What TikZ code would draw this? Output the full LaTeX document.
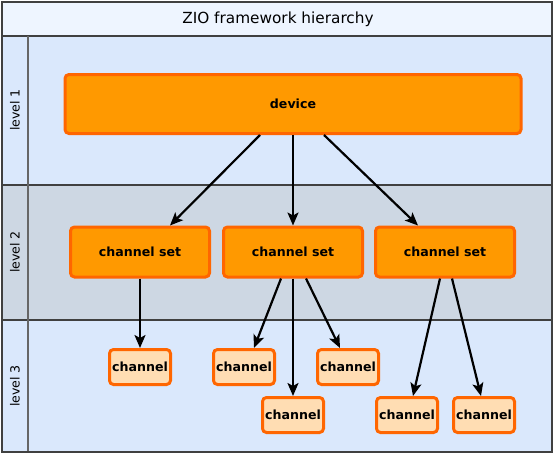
\documentclass[tikz,border=0pt]{standalone}
\usepackage{fontspec}
\setmainfont{DejaVu Sans}
\usetikzlibrary{arrows.meta}
\definecolor{titlebg}{HTML}{EEF5FF}
\definecolor{laneA}{HTML}{DAE8FC}
\definecolor{laneB}{HTML}{CDD7E3}
\definecolor{orfill}{HTML}{FF9900}
\definecolor{orline}{HTML}{FF6600}
\definecolor{chfill}{HTML}{FFDDB3}
\tikzset{
  bigbox/.style={draw=orline, fill=orfill, line width=3pt, rounded corners=4pt, font=\fontsize{12.6}{14}\selectfont\bfseries, inner sep=0pt},
  smallbox/.style={draw=orline, fill=chfill, line width=3pt, rounded corners=4pt, font=\fontsize{12.6}{14}\selectfont\bfseries, inner sep=0pt, minimum width=61pt, minimum height=35pt},
  arr/.style={-{Stealth[length=13pt,width=11pt,inset=3pt]}, line width=2.2pt},
  lanelbl/.style={rotate=90, font=\fontsize{12.6}{14}\selectfont},
}
\begin{document}
\begin{tikzpicture}[x=1pt,y=-1pt]
\useasboundingbox (0,0) rectangle (555,455);
% backgrounds
\fill[titlebg] (2,2) rectangle (552,36);
\fill[laneA] (2,36) rectangle (552,185);
\fill[laneB] (2,185) rectangle (552,320);
\fill[laneA] (2,320) rectangle (552,452);
\draw[black!75, line width=1.2pt] (2,36) -- (552,36);
\draw[black!75, line width=1.2pt] (2,185) -- (552,185);
\draw[black!75, line width=1.2pt] (2,320) -- (552,320);
\draw[black!60, line width=1.2pt] (28,36) -- (28,452);
\draw[black!75, line width=1.4pt] (2,2) rectangle (552,452);
\node[font=\fontsize{15.3}{17}\selectfont] (title) at (278,19) {ZIO framework hierarchy};
\node[lanelbl] (l1) at (15,110) {level 1};
\node[lanelbl] (l2) at (15,252) {level 2};
\node[lanelbl] (l3) at (15,386) {level 3};
% nodes
\node[bigbox, minimum width=456pt, minimum height=59pt] (dev) at (293,104) {device};
\node[bigbox, minimum width=139pt, minimum height=50pt] (cs1) at (140,252) {channel set};
\node[bigbox, minimum width=139pt, minimum height=50pt] (cs2) at (293,252) {channel set};
\node[bigbox, minimum width=139pt, minimum height=50pt] (cs3) at (445,252) {channel set};
\node[smallbox] (c1) at (140,367) {channel};
\node[smallbox] (c2) at (244,367) {channel};
\node[smallbox] (c3) at (348,367) {channel};
\node[smallbox] (c4) at (293,415) {channel};
\node[smallbox] (c5) at (407,415) {channel};
\node[smallbox] (c6) at (484,415) {channel};
% arrows
\draw[arr] ([xshift=-33pt]dev.south) -- ([xshift=30pt]cs1.north);
\draw[arr] (dev.south) -- (cs2.north);
\draw[arr] ([xshift=31pt]dev.south) -- ([xshift=-27pt]cs3.north);
\draw[arr] (cs1.south) -- (c1.north);
\draw[arr] ([xshift=-12pt]cs2.south) -- ([xshift=10pt]c2.north);
\draw[arr] (cs2.south) -- (c4.north);
\draw[arr] ([xshift=13pt]cs2.south) -- ([xshift=-8pt]c3.north);
\draw[arr] ([xshift=-5pt]cs3.south) -- ([xshift=6pt]c5.north);
\draw[arr] ([xshift=7pt]cs3.south) -- ([xshift=-3pt]c6.north);
\end{tikzpicture}
\end{document}
